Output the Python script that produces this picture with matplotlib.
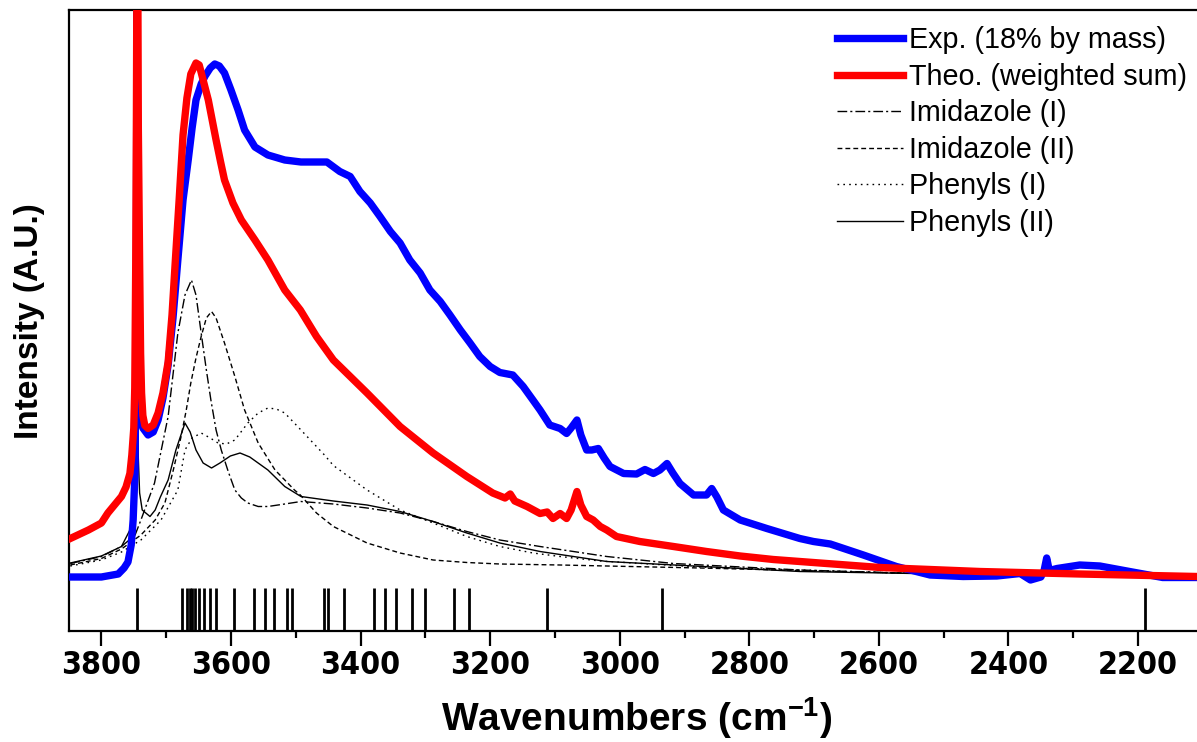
import matplotlib
matplotlib.use("Agg")
import matplotlib.pyplot as plt
from matplotlib.ticker import MultipleLocator
from matplotlib import font_manager

plt.rcParams['font.family'] = ['Liberation Sans', 'DejaVu Sans']
plt.rcParams['mathtext.fontset'] = 'custom'
plt.rcParams['mathtext.rm'] = 'Liberation Sans'
plt.rcParams['mathtext.bf'] = 'Liberation Sans:bold'

# ---------------- data ----------------
exp_w = [3848, 3800, 3774, 3765, 3759, 3754, 3751, 3748, 3746, 3745, 3744, 3742, 3739, 3736,
         3728, 3720, 3712.5, 3705, 3697, 3689.5, 3682, 3674, 3666, 3660, 3654, 3646, 3640,
         3632, 3625, 3618, 3610, 3600, 3589, 3579, 3563, 3543, 3517, 3492, 3470, 3452, 3432,
         3416, 3401, 3385, 3370, 3354, 3339, 3324, 3308, 3293, 3277, 3262, 3246, 3231, 3216,
         3200, 3185, 3165, 3149, 3134, 3123, 3108, 3092, 3082, 3075, 3066, 3060, 3051, 3043,
         3033, 3024, 3015, 2994, 2974, 2961, 2948, 2938, 2927, 2918, 2907, 2886, 2866, 2858,
         2850, 2840, 2814, 2773, 2722, 2701, 2675, 2624, 2573, 2521, 2470, 2418, 2382, 2366,
         2350, 2345, 2341, 2337, 2325, 2290, 2259, 2213, 2162, 2109]
exp_i = [0.2, 0.2, 0.8, 2.0, 3.2, 6.6, 11.6, 21.6, 60, 130, 60, 38, 32, 30,
         28.6, 29.2, 31.6, 36, 42.6, 52, 63.6, 75.6, 83.6, 90, 95.6, 98.8, 100.4,
         102, 102.8, 102.4, 101, 97.6, 93.6, 89.6, 86.2, 84.6, 83.6, 83.2, 83.2, 83.2, 81.3,
         80.3, 77.3, 75, 72.3, 69.3, 67, 63.6, 61, 57.6, 55.3, 52.6, 49.6, 47, 44.3,
         42.3, 41.1, 40.6, 38.3, 35.6, 33.6, 30.6, 29.9, 28.9, 30, 31.6, 28.6, 25.6, 25.6,
         25.9, 24, 22.3, 20.9, 20.8, 21.7, 20.9, 21.6, 22.9, 21, 18.9, 16.6, 16.6, 17.9,
         16.2, 13.6, 11.6, 9.9, 7.9, 7.3, 6.8, 4.6, 2.3, 0.6, 0.3, 0.4, 0.9, -0.4,
         0.2, 1.5, 4.0, 1.5, 1.9, 2.6, 2.4, 1.3, 0.1, 0.1]

theo_w = [3848, 3820, 3800, 3790, 3769, 3762, 3756, 3753, 3750, 3748.5, 3747, 3746, 3744.5,
          3743, 3741, 3739.5, 3738, 3736, 3733, 3728, 3720, 3712.5, 3705, 3697, 3691, 3686,
          3680, 3674, 3668, 3662, 3654, 3649, 3643, 3635, 3629, 3623, 3616, 3610, 3597, 3584,
          3573, 3563, 3543, 3517, 3493, 3468, 3442, 3416, 3390, 3339, 3288, 3236, 3196, 3177,
          3169, 3162, 3143, 3123, 3112, 3103, 3092, 3082, 3075, 3066, 3060, 3051, 3041, 3030,
          3020, 3005, 2969, 2917, 2866, 2814, 2763, 2722, 2598, 2444, 2290, 2109]
theo_i = [7.9, 9.6, 11, 13, 16.3, 18.2, 20.9, 24.6, 30, 38, 63, 90, 150,
          90, 63, 45, 37, 32.5, 30.5, 29.9, 30.6, 33, 37, 43.2, 52.6, 63.2,
          75.6, 88.6, 96, 100.8, 103, 102.6, 99.6, 95.6, 91.6, 87.6, 83.2, 79.6, 75, 71.6,
          69.5, 67.6, 63.6, 57.6, 53.6, 48.3, 43.6, 40.3, 37, 30.3, 25, 20.3, 17, 16,
          16.8, 15.4, 14.3, 12.9, 13.2, 11.9, 12.9, 11.9, 13.6, 17.3, 14.6, 12.3, 11.6, 10.3,
          9.6, 8.3, 7.3, 6.3, 5.3, 4.4, 3.7, 3.3, 2.1, 1.3, 0.8, 0.3]

imI_w = [3848, 3800, 3769, 3748, 3739, 3718, 3697, 3682, 3671, 3661, 3654, 3646, 3638, 3631,
         3623, 3615, 3604, 3594, 3584, 3574, 3558, 3543, 3517, 3492, 3442, 3390, 3339, 3288,
         3236, 3185, 3123, 3020, 2917, 2722, 2568, 2414, 2109]
imI_i = [2.9, 4.3, 6.3, 8.6, 11.6, 19, 32.3, 49, 56.6, 59.6, 56.6, 49, 41.6, 35.6,
         29.6, 25.6, 21.2, 17.6, 16, 15, 14.3, 14.3, 14.8, 15.3, 14.8, 14, 13, 11.3,
         9.3, 7.6, 6.3, 4.3, 2.9, 1.6, 1.0, 0.6, 0.4]

imII_w = [3848, 3800, 3769, 3739, 3717, 3702, 3689, 3677, 3669, 3662, 3654, 3646, 3638, 3630,
          3623, 3610, 3594, 3579, 3558, 3532, 3502, 3493, 3468, 3442, 3390, 3339, 3288, 3236,
          3185, 3092, 2876, 2568, 2109]
imII_i = [2.6, 3.9, 5.8, 8.6, 11.6, 15, 21.6, 28.3, 33.6, 39, 44, 48.3, 52, 53.3,
          52, 47, 40.3, 33.6, 27, 21.6, 17.6, 16.6, 13, 10.3, 7, 5, 3.6, 3.1,
          2.8, 2.6, 2.0, 1.0, 0.4]

phI_w = [3848, 3800, 3769, 3739, 3708, 3682, 3671, 3660, 3646, 3632, 3620, 3607, 3594, 3574,
         3558, 3543, 3530, 3517, 3492, 3455, 3442, 3390, 3339, 3288, 3236, 3185, 3134, 3092,
         3030, 2876, 2568, 2109]
phI_i = [2.4, 3.6, 5.2, 7.6, 11.6, 17.6, 25.6, 28, 29, 28, 27, 26.8, 27.6, 31,
         33, 34, 33.8, 33, 29.6, 24.5, 22.5, 17.6, 13.6, 11, 8.3, 6.3, 5, 4.3,
         3.4, 2.2, 1.0, 0.4]

phII_w = [3848, 3800, 3769, 3756, 3749, 3746.5, 3744.5, 3743, 3741, 3737, 3725, 3717, 3709,
          3697, 3685, 3671, 3663, 3654, 3643, 3630, 3617, 3601, 3586, 3571, 3543, 3517, 3492,
          3442, 3390, 3339, 3288, 3236, 3185, 3123, 3020, 2722, 2414, 2109]
phII_i = [3, 4.4, 6.3, 9.6, 14, 24, 41, 24, 17, 13.6, 12.3, 13.6, 16.2,
          19.6, 25.6, 31, 29.2, 25.6, 23, 22, 23, 24.4, 25, 24.2, 21.6, 18.3, 16.3,
          15.4, 14.6, 13.3, 11.3, 9, 7, 5.3, 3.3, 1.3, 0.6, 0.4]

stick_w = [3745, 3675, 3668, 3664, 3660, 3655, 3649, 3641, 3633, 3623, 3595, 3565, 3547,
           3533, 3514, 3506, 3456, 3450, 3425, 3379, 3362, 3346, 3320, 3300, 3256, 3232,
           3112, 2935, 2189]

labels = ["Exp. (18% by mass)", "Theo. (weighted sum)", "Imidazole (I)",
          "Imidazole (II)", "Phenyls (I)", "Phenyls (II)"]

# ---------------- figure ----------------
W, H = 1197, 742
fig = plt.figure(figsize=(W / 100, H / 100), dpi=100)
ax = fig.add_axes([69 / W, 1 - 631 / H, 1 - 69 / W, (631 - 10) / H])

ymin, ymax = -10.6, 113.6
stick_top = -2.06

dd = (0, (7, 2.2, 1.5, 2.2))
ds = (0, (3.5, 2.2))
dt = (0, (1.2, 3.0))

l3, = ax.plot(imI_w, imI_i, color='black', lw=1.0, linestyle=dd, zorder=2)
l4, = ax.plot(imII_w, imII_i, color='black', lw=1.0, linestyle=ds, zorder=2)
l5, = ax.plot(phI_w, phI_i, color='black', lw=1.0, linestyle=dt, zorder=2)
l6, = ax.plot(phII_w, phII_i, color='black', lw=1.0, linestyle='-', zorder=2)
l1, = ax.plot(exp_w, exp_i, color='#0000ff', lw=5.3, solid_joinstyle='round', zorder=3)
l2, = ax.plot(theo_w, theo_i, color='#ff0000', lw=5.3, solid_joinstyle='round', zorder=4)

ax.vlines(stick_w, ymin, stick_top, color='black', lw=2.0, zorder=2)

ax.set_xlim(3850, 2109)
ax.set_ylim(ymin, ymax)

ax.xaxis.set_major_locator(MultipleLocator(200))
ax.xaxis.set_minor_locator(MultipleLocator(100))
ax.set_yticks([])
ax.tick_params(axis='x', which='major', direction='out', length=11, width=1.6, pad=3)
ax.tick_params(axis='x', which='minor', direction='out', length=5, width=1.6)

tick_fp = font_manager.FontProperties(family='DejaVu Sans', stretch='condensed',
                                      weight='bold', size=23)
for lab in ax.get_xticklabels():
    lab.set_fontproperties(tick_fp)

for s in ['left', 'top', 'bottom']:
    ax.spines[s].set_linewidth(1.6)
ax.spines['right'].set_visible(False)

fig.text(30 / W, 1 - 321 / H, "Intensity (A.U.)", rotation=90, ha='center', va='center',
         fontsize=24, fontweight='bold')
fig.text(637 / W, 1 - 718 / H, r"Wavenumbers (cm$^{\mathbf{-1}}$)", ha='center', va='center',
         fontsize=28, fontweight='bold')

leg = ax.legend([l1, l2, l3, l4, l5, l6], labels, loc='upper right',
                bbox_to_anchor=(1187 / W, 1 - 26 / H), bbox_transform=fig.transFigure,
                frameon=False, fontsize=20.7, handlelength=2.3, handletextpad=0.22,
                labelspacing=0.3, borderpad=0, borderaxespad=0)

fig.savefig("out.png", dpi=100)
